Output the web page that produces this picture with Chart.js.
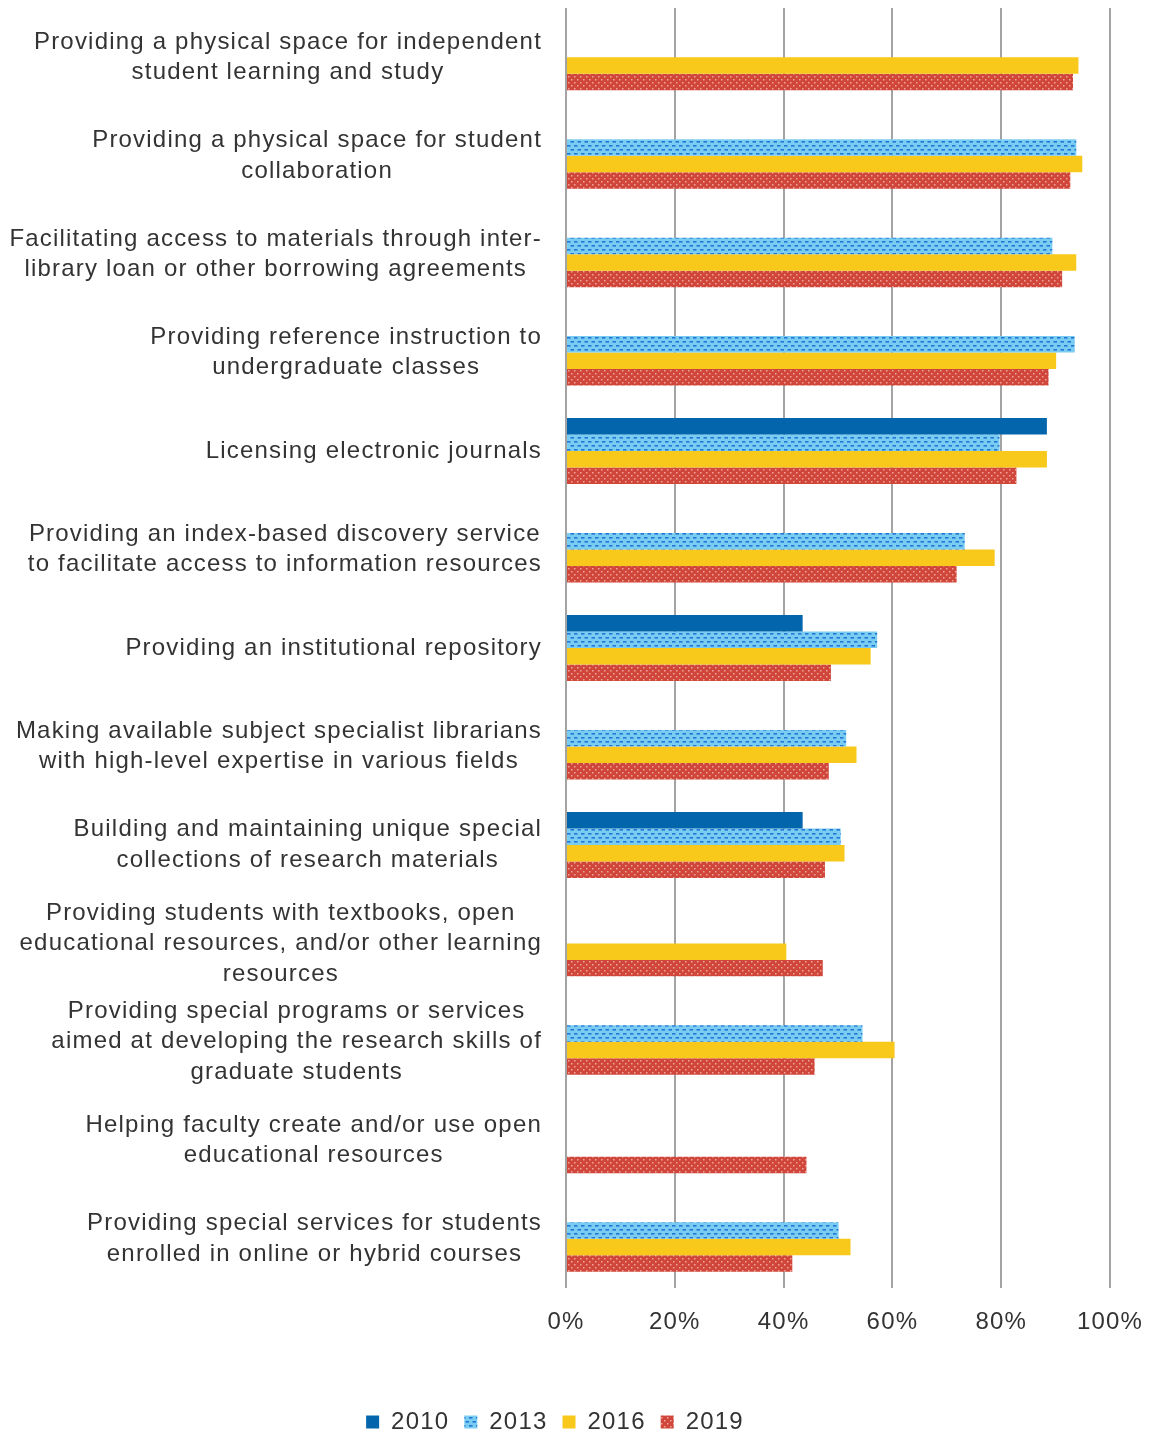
<!DOCTYPE html>
<html>
<head>
<meta charset="utf-8">
<script src="https://cdn.jsdelivr.net/npm/chart.js@4/dist/chart.umd.min.js"></script>
<style>
  html, body { margin: 0; padding: 0; background: #fff; overflow: hidden; }
  #wrap { width: 1151px; height: 1435px; }
  canvas { display: block; }
</style>
</head>
<body>
<div id="wrap"><canvas id="chart"></canvas></div>
<script>
/************** DATA **************/
const categories = [
  ["Providing a physical space for independent", "student learning and study"],
  ["Providing a physical space for student", "collaboration"],
  ["Facilitating access to materials through inter-", "library loan or other borrowing agreements"],
  ["Providing reference instruction to", "undergraduate classes"],
  ["Licensing electronic journals"],
  ["Providing an index-based discovery service", "to facilitate access to information resources"],
  ["Providing an institutional repository"],
  ["Making available subject specialist librarians", "with high-level expertise in various fields"],
  ["Building and maintaining unique special", "collections of research materials"],
  ["Providing students with textbooks, open", "educational resources, and/or other learning", "resources"],
  ["Providing special programs or services", "aimed at developing the research skills of", "graduate students"],
  ["Helping faculty create and/or use open", "educational resources"],
  ["Providing special services for students", "enrolled in online or hybrid courses"]
];

const years = ["2010", "2013", "2016", "2019"];

const v2010 = [null, null, null, null, 88.4, null, 43.5, null, 43.5, null, null, null, null];
const v2013 = [null, 93.8, 89.4, 93.5, 79.7, 73.3, 57.2, 51.5, 50.5, null, 54.5, null, 50.1];
const v2016 = [94.2, 94.9, 93.8, 90.1, 88.4, 78.8, 56.0, 53.4, 51.2, 40.5, 60.4, null, 52.3];
const v2019 = [93.2, 92.7, 91.2, 88.7, 82.8, 71.8, 48.7, 48.3, 47.6, 47.2, 45.7, 44.2, 41.6];

const xTicks = [0, 20, 40, 60, 80, 100];

/************** PATTERNS **************/
function makePattern(w, h, bg, fg, marks) {
  const c = document.createElement("canvas");
  c.width = w; c.height = h;
  const g = c.getContext("2d");
  g.fillStyle = bg;
  g.fillRect(0, 0, w, h);
  g.fillStyle = fg;
  marks.forEach(m => g.fillRect(m[0], m[1], m[2], m[3]));
  return g.createPattern(c, "repeat");
}

const ctx = document.getElementById("chart").getContext("2d");

// 2013: light blue with rows of blue dashes
const pat2013 = makePattern(7, 8, "#7accf1", "#1f78d8", [[0, 1, 3.5, 1.6], [3.5, 5, 3.5, 1.6]]);
// 2019: red with small pink dots
const pat2019 = makePattern(6, 6, "#d0463a", "#eea59c", [[1, 1, 1.5, 1.5], [4, 4, 1.5, 1.5]]);

const FONT = '"Liberation Sans", Arial, sans-serif';
const TEXT = "#333333";
const SPACING = "1.2px";

/************** PLUGINS **************/
const spacingPlugin = {
  id: "spacing",
  beforeLayout(chart) { chart.ctx.letterSpacing = SPACING; },
  beforeDraw(chart) { chart.ctx.letterSpacing = SPACING; }
};

// category labels: each block right-aligned to the axis, lines centred in the block
const yLabelPlugin = {
  id: "yLabels",
  afterDraw(chart) {
    const c = chart.ctx;
    const yScale = chart.scales.y;
    const right = chart.chartArea.left - 24;
    c.save();
    c.font = "24px " + FONT;
    c.letterSpacing = SPACING;
    c.fillStyle = TEXT;
    c.textAlign = "center";
    c.textBaseline = "middle";
    chart.data.labels.forEach((lines, i) => {
      const y = yScale.getPixelForValue(i);
      const w = Math.max(...lines.map(l => c.measureText(l).width));
      const x = right - w / 2;
      lines.forEach((l, j) => {
        c.fillText(l, x, y + (j - (lines.length - 1) / 2) * 30.5);
      });
    });
    c.restore();
  }
};

/************** CHART **************/
new Chart(ctx, {
  type: "bar",
  data: {
    labels: categories,
    datasets: [
      { label: years[0], data: v2010, backgroundColor: "#0366ad" },
      { label: years[1], data: v2013, backgroundColor: pat2013 },
      { label: years[2], data: v2016, backgroundColor: "#f8c81a" },
      { label: years[3], data: v2019, backgroundColor: pat2019 }
    ]
  },
  options: {
    indexAxis: "y",
    responsive: true,
    maintainAspectRatio: false,
    animation: false,
    categoryPercentage: 0.67,
    barPercentage: 1.0,
    layout: { padding: { top: 8, right: 41, left: 0, bottom: 0 } },
    scales: {
      x: {
        min: 0,
        max: 100,
        afterBuildTicks: s => { s.ticks = xTicks.map(v => ({ value: v })); },
        afterFit: s => {
          s.height = 107;
          s.paddingLeft = 0;
          s.paddingRight = 0;
        },
        grid: { color: "#a3a3a3", lineWidth: 2, drawTicks: false },
        border: { display: false },
        ticks: {
          padding: 20,
          color: TEXT,
          font: { family: FONT, size: 24 },
          callback: v => v + "%"
        }
      },
      y: {
        afterFit: s => { s.width = 566; },
        grid: { display: false },
        border: { display: false },
        ticks: { display: false }
      }
    },
    plugins: {
      tooltip: { enabled: false },
      legend: {
        position: "bottom",
        maxHeight: 40,
        labels: {
          boxWidth: 13,
          boxHeight: 13,
          padding: 15,
          color: TEXT,
          font: { family: FONT, size: 24 }
        }
      }
    }
  },
  plugins: [spacingPlugin, yLabelPlugin]
});
</script>
</body>
</html>
